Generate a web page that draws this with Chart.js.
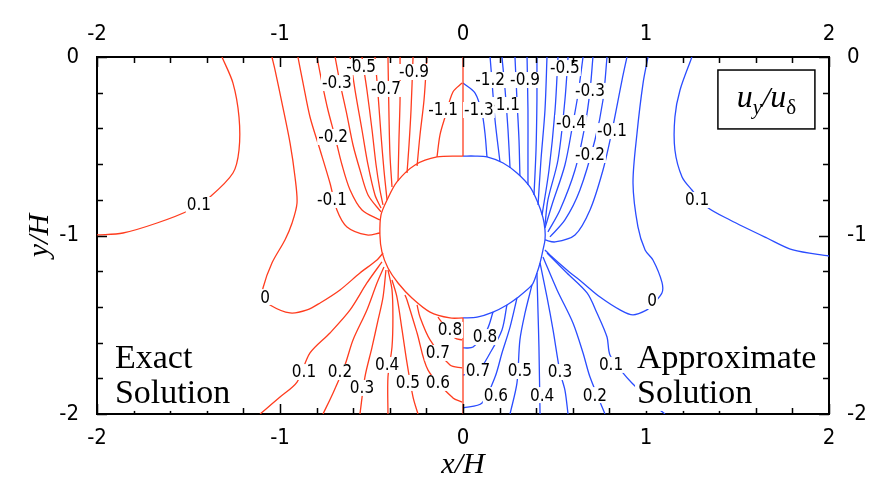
<!DOCTYPE html>
<html>
<head>
<meta charset="utf-8">
<script src="https://cdn.jsdelivr.net/npm/chart.js@4.4.0/dist/chart.umd.min.js"></script>
<style>
  html, body { margin: 0; padding: 0; background: #fff; }
</style>
</head>
<body>
<canvas id="c" width="876" height="487"></canvas>
<script>
// contour lines, [x/H, y/H]
// exact solution (red, left half)
const exactCircle = [[0,-0.555],[-0.142,-0.560],[-0.262,-0.605],[-0.361,-0.700],[-0.415,-0.801],[-0.448,-0.885],[-0.454,-0.997],[-0.443,-1.092],[-0.410,-1.182],[-0.355,-1.266],[-0.279,-1.350],[-0.180,-1.429],[-0.071,-1.462],[0,-1.462]];
const exactAxisTop = [[0,0],[0,-0.555]];
const exactAxisBottom = [[0,-1.462],[0,-2]];
const exactP01Top = [[-1.317,0],[-1.257,-0.146],[-1.224,-0.336],[-1.224,-0.521],[-1.257,-0.650],[-1.383,-0.784],[-1.492,-0.857],[-1.672,-0.930],[-1.858,-0.986],[-2,-0.997]];
const exactZero = [[-1.044,0],[-1.027,-0.073],[-0.989,-0.258],[-0.945,-0.482],[-0.918,-0.672],[-0.907,-0.818],[-0.934,-0.930],[-0.973,-1.025],[-1.044,-1.154],[-1.093,-1.294],[-1.093,-1.345],[-1.055,-1.389],[-0.945,-1.434],[-0.852,-1.417],[-0.781,-1.378],[-0.672,-1.305],[-0.563,-1.210],[-0.470,-1.137],[-0.437,-1.098]];
const exactM01 = [[-0.902,0],[-0.874,-0.146],[-0.836,-0.336],[-0.781,-0.521],[-0.727,-0.706],[-0.689,-0.857],[-0.634,-0.952],[-0.525,-0.997],[-0.454,-0.986]];
const exactM02 = [[-0.798,0],[-0.770,-0.146],[-0.738,-0.297],[-0.699,-0.448],[-0.661,-0.605],[-0.617,-0.745],[-0.552,-0.857],[-0.454,-0.913]];
const exactM03 = [[-0.699,0],[-0.672,-0.146],[-0.634,-0.325],[-0.601,-0.493],[-0.563,-0.633],[-0.519,-0.773],[-0.448,-0.868]];
const exactM04 = [[-0.617,0],[-0.590,-0.185],[-0.552,-0.409],[-0.519,-0.605],[-0.481,-0.773],[-0.448,-0.846]];
const exactM05 = [[-0.552,0],[-0.525,-0.185],[-0.497,-0.409],[-0.475,-0.605],[-0.454,-0.745],[-0.437,-0.829]];
const exactM06 = [[-0.481,0],[-0.464,-0.213],[-0.448,-0.437],[-0.432,-0.633],[-0.415,-0.801]];
const exactM07 = [[-0.410,0],[-0.404,-0.353],[-0.399,-0.549],[-0.388,-0.728]];
const exactM08 = [[-0.344,0],[-0.344,-0.241],[-0.350,-0.465],[-0.355,-0.695]];
const exactM09 = [[-0.273,0],[-0.284,-0.297],[-0.295,-0.493],[-0.306,-0.650]];
const exactM10 = [[-0.197,0],[-0.213,-0.241],[-0.235,-0.437],[-0.251,-0.611]];
const exactM11 = [[-0.005,-0.146],[-0.055,-0.196],[-0.098,-0.336],[-0.126,-0.437],[-0.142,-0.560]];
const exactP01 = [[-1.109,-2],[-1.0,-1.905],[-0.907,-1.821],[-0.836,-1.658],[-0.727,-1.546],[-0.617,-1.417],[-0.525,-1.266],[-0.443,-1.148]];
const exactP02 = [[-0.765,-2],[-0.710,-1.882],[-0.645,-1.725],[-0.601,-1.585],[-0.525,-1.417],[-0.470,-1.266],[-0.432,-1.176]];
const exactP03 = [[-0.563,-2],[-0.536,-1.793],[-0.497,-1.625],[-0.464,-1.473],[-0.437,-1.345],[-0.421,-1.193]];
const exactP04 = [[-0.410,-2],[-0.410,-1.793],[-0.388,-1.625],[-0.383,-1.457],[-0.388,-1.305],[-0.410,-1.193]];
const exactP05 = [[-0.246,-2],[-0.273,-1.905],[-0.306,-1.714],[-0.333,-1.529],[-0.361,-1.345],[-0.388,-1.249]];
const exactP06 = [[-0.005,-1.933],[-0.055,-1.910],[-0.191,-1.754],[-0.251,-1.546],[-0.306,-1.361],[-0.317,-1.333]];
const exactP07 = [[-0.005,-1.742],[-0.071,-1.725],[-0.180,-1.585],[-0.235,-1.457],[-0.251,-1.389]];
const exactP08 = [[-0.005,-1.585],[-0.044,-1.574],[-0.126,-1.473],[-0.137,-1.457]];

// approximate solution (blue, right half)
const approxCircle = [[0,-0.555],[0.066,-0.555],[0.131,-0.560],[0.219,-0.594],[0.295,-0.650],[0.366,-0.728],[0.410,-0.818],[0.437,-0.900],[0.448,-0.969],[0.448,-1.025],[0.437,-1.081],[0.421,-1.154],[0.404,-1.210],[0.377,-1.277],[0.295,-1.350],[0.240,-1.389],[0.164,-1.429],[0.077,-1.457],[0,-1.462]];
const approxP01Top = [[1.251,0],[1.186,-0.185],[1.158,-0.336],[1.158,-0.521],[1.197,-0.672],[1.251,-0.745],[1.333,-0.840],[1.459,-0.913],[1.661,-1.014],[1.803,-1.081],[2,-1.115]];
const approxZero = [[1.011,0],[0.984,-0.146],[0.951,-0.426],[0.929,-0.706],[0.956,-0.952],[0.995,-1.081],[1.038,-1.137],[1.087,-1.261],[1.087,-1.322],[1.033,-1.389],[1.005,-1.417],[0.929,-1.445],[0.858,-1.417],[0.749,-1.345],[0.656,-1.266],[0.568,-1.193],[0.475,-1.109],[0.448,-1.081]];
const approxM01 = [[0.896,0],[0.869,-0.129],[0.814,-0.415],[0.765,-0.633],[0.694,-0.857],[0.612,-0.997],[0.503,-1.036],[0.448,-1.025]];
const approxM02 = [[0.787,0],[0.765,-0.241],[0.721,-0.465],[0.639,-0.745],[0.557,-0.913],[0.475,-1.008]];
const approxM03 = [[0.710,0],[0.694,-0.190],[0.667,-0.381],[0.612,-0.633],[0.530,-0.857],[0.464,-0.980]];
const approxM04 = [[0.656,0],[0.628,-0.213],[0.601,-0.370],[0.557,-0.605],[0.486,-0.829],[0.448,-0.958]];
const approxM05 = [[0.574,0],[0.557,-0.241],[0.519,-0.577],[0.464,-0.801],[0.448,-0.941]];
const approxM06 = [[0.519,0],[0.503,-0.297],[0.470,-0.633],[0.432,-0.885]];
const approxM07 = [[0.459,0],[0.448,-0.297],[0.426,-0.577],[0.410,-0.829]];
const approxM08 = [[0.404,0],[0.404,-0.241],[0.399,-0.521],[0.388,-0.773]];
const approxM09 = [[0.350,0],[0.355,-0.297],[0.355,-0.521],[0.355,-0.717]];
const approxM10 = [[0.284,0],[0.295,-0.241],[0.306,-0.465],[0.311,-0.667]];
const approxM11 = [[0.213,0],[0.230,-0.185],[0.246,-0.409],[0.257,-0.622]];
const approxM12 = [[0.148,0],[0.158,-0.129],[0.175,-0.353],[0.202,-0.588]];
const approxM13 = [[0,-0.146],[0.066,-0.202],[0.104,-0.314],[0.120,-0.426],[0.131,-0.560]];
const approxP01 = [[0.459,-1.098],[0.568,-1.210],[0.678,-1.322],[0.732,-1.434],[0.787,-1.569],[0.803,-1.669],[0.874,-1.770],[0.923,-1.826],[1.077,-1.978],[1.104,-2]];
const approxP02 = [[0.437,-1.120],[0.514,-1.305],[0.601,-1.490],[0.656,-1.658],[0.694,-1.793],[0.776,-2]];
const approxP03 = [[0.421,-1.154],[0.459,-1.345],[0.492,-1.529],[0.530,-1.765],[0.557,-1.866],[0.574,-2]];
const approxP04 = [[0.404,-1.210],[0.410,-1.434],[0.415,-1.625],[0.421,-2]];
const approxP05 = [[0.377,-1.277],[0.339,-1.434],[0.311,-1.585],[0.295,-1.826],[0.257,-2]];
const approxP06 = [[0.295,-1.350],[0.257,-1.513],[0.213,-1.658],[0.175,-1.793],[0.104,-1.938],[0,-1.966]];
const approxP07 = [[0.240,-1.389],[0.213,-1.529],[0.148,-1.658],[0.082,-1.759],[0,-1.782]];
const approxP08 = [[0.164,-1.429],[0.131,-1.529],[0.055,-1.625],[0,-1.630]];

// contour labels: text, x/H, y/H
const exactLabels = [["0.1",-1.443,-0.829],["0",-1.082,-1.345],["-0.1",-0.716,-0.801],["-0.2",-0.710,-0.448],["-0.3",-0.689,-0.146],["-0.5",-0.557,-0.056],["-0.7",-0.421,-0.179],["-0.9",-0.268,-0.084],["-1.1",-0.109,-0.297],["0.1",-0.869,-1.765],["0.2",-0.672,-1.765],["0.3",-0.552,-1.854],["0.4",-0.415,-1.725],["0.5",-0.301,-1.826],["0.6",-0.137,-1.826],["0.7",-0.137,-1.658],["0.8",-0.071,-1.529]];
const approxLabels = [["0.1",1.279,-0.801],["0",1.033,-1.367],["-0.1",0.814,-0.415],["-0.2",0.694,-0.549],["-0.3",0.694,-0.190],["-0.4",0.590,-0.370],["-0.5",0.557,-0.062],["-0.9",0.339,-0.129],["-1.1",0.230,-0.269],["-1.2",0.148,-0.129],["-1.3",0.087,-0.297],["0.1",0.809,-1.725],["0.2",0.721,-1.894],["0.3",0.530,-1.765],["0.4",0.432,-1.894],["0.5",0.311,-1.759],["0.6",0.180,-1.894],["0.7",0.082,-1.759],["0.8",0.120,-1.569]];

const xTickValues = [-2, -1, 0, 1, 2];
const yTickValues = [0, -1, -2];

const RED = "#ff3c1e";
const BLUE = "#2a4cff";
const NARROW = '"Liberation Sans Narrow", "DejaVu Sans Condensed", sans-serif';
const SERIF = '"Liberation Serif", "DejaVu Serif", serif';

const exactLines = [exactCircle, exactAxisTop, exactAxisBottom, exactP01Top, exactZero, exactM01, exactM02, exactM03, exactM04, exactM05, exactM06, exactM07, exactM08, exactM09, exactM10, exactM11, exactP01, exactP02, exactP03, exactP04, exactP05, exactP06, exactP07, exactP08];
const approxLines = [approxCircle, approxP01Top, approxZero, approxM01, approxM02, approxM03, approxM04, approxM05, approxM06, approxM07, approxM08, approxM09, approxM10, approxM11, approxM12, approxM13, approxP01, approxP02, approxP03, approxP04, approxP05, approxP06, approxP07, approxP08];

function lineSet(pts, color) {
  return {
    data: pts.map(p => ({ x: p[0], y: p[1] })),
    showLine: true,
    borderColor: color,
    borderWidth: 1.3,
    pointRadius: 0,
    tension: 0.3,
    fill: false,
  };
}

const datasets = exactLines.map(l => lineSet(l, RED)).concat(approxLines.map(l => lineSet(l, BLUE)));

// inward tick marks, contour labels, texts and legend box
const decorations = {
  id: "decorations",
  afterDatasetsDraw(chart) {
    const ctx = chart.ctx;
    const xs = chart.scales.x, ys = chart.scales.y;
    const a = chart.chartArea;
    ctx.save();

    // contour labels with white background
    ctx.font = "17px " + NARROW;
    ctx.textAlign = "center";
    ctx.textBaseline = "middle";
    exactLabels.concat(approxLabels).forEach(l => {
      const px = xs.getPixelForValue(l[1]), py = ys.getPixelForValue(l[2]);
      const w = ctx.measureText(l[0]).width;
      ctx.fillStyle = "#fff";
      ctx.fillRect(px - w / 2 - 1, py - 8, w + 2, 16);
      ctx.fillStyle = "#000";
      ctx.fillText(l[0], px, py + 1);
    });

    // ticks pointing inwards
    ctx.strokeStyle = "#000";
    ctx.lineWidth = 1.5;
    ctx.beginPath();
    for (let i = 0; i <= 20; i++) {
      const v = -2 + i * 0.2;
      const len = i % 5 === 0 ? 10 : 6;
      const px = Math.round(xs.getPixelForValue(v)) + 0.5;
      ctx.moveTo(px, a.bottom); ctx.lineTo(px, a.bottom - len);
      ctx.moveTo(px, a.top); ctx.lineTo(px, a.top + len);
    }
    for (let i = 0; i <= 10; i++) {
      const v = -2 + i * 0.2;
      const len = i % 5 === 0 ? 10 : 6;
      const py = Math.round(ys.getPixelForValue(v)) + 0.5;
      ctx.moveTo(a.left, py); ctx.lineTo(a.left + len, py);
      ctx.moveTo(a.right, py); ctx.lineTo(a.right - len, py);
    }
    ctx.stroke();

    // solution captions
    ctx.font = "34px " + SERIF;
    ctx.textAlign = "left";
    ctx.textBaseline = "alphabetic";
    const captions = [["Exact", -1.902, -1.742], ["Solution", -1.902, -1.938], ["Approximate", 0.951, -1.742], ["Solution", 0.951, -1.938]];
    captions.forEach(c => {
      const px = xs.getPixelForValue(c[1]), py = ys.getPixelForValue(c[2]);
      const w = ctx.measureText(c[0]).width;
      ctx.fillStyle = "#fff";
      ctx.fillRect(px - 2, py - 25, w + 4, 33);
      ctx.fillStyle = "#000";
      ctx.fillText(c[0], px, py);
    });

    // quantity box u_y/u_delta
    const bx0 = xs.getPixelForValue(1.393), bx1 = xs.getPixelForValue(1.923);
    const by0 = ys.getPixelForValue(-0.073), by1 = ys.getPixelForValue(-0.403);
    ctx.fillStyle = "#fff";
    ctx.fillRect(bx0, by0, bx1 - bx0, by1 - by0);
    ctx.lineWidth = 1.5;
    ctx.strokeRect(bx0, by0, bx1 - bx0, by1 - by0);
    const parts = [["u", "italic 32px " + SERIF, 0], ["y", "italic 21px " + SERIF, 7], ["/", "italic 30px " + SERIF, 0], ["u", "italic 32px " + SERIF, 0], ["\u03b4", "21px " + SERIF, 7]];
    let total = 0;
    parts.forEach(p => { ctx.font = p[1]; total += ctx.measureText(p[0]).width; });
    let cx = (bx0 + bx1) / 2 - total / 2;
    const base = (by0 + by1) / 2 + 8;
    ctx.fillStyle = "#000";
    parts.forEach(p => {
      ctx.font = p[1];
      ctx.fillText(p[0], cx, base + p[2]);
      cx += ctx.measureText(p[0]).width;
    });

    ctx.restore();
  },
};

const tickFont = { family: NARROW, size: 22 };
const titleFont = { family: SERIF, size: 30, style: "italic" };
const border = { display: true, color: "#000", width: 2 };

new Chart(document.getElementById("c"), {
  type: "scatter",
  data: { datasets: datasets },
  options: {
    responsive: false,
    animation: false,
    devicePixelRatio: 1,
    layout: { padding: 0 },
    plugins: { legend: { display: false }, tooltip: { enabled: false } },
    scales: {
      x: {
        type: "linear", position: "bottom", min: -2, max: 2,
        afterBuildTicks: s => { s.ticks = xTickValues.map(v => ({ value: v })); },
        afterFit: s => { s.height = 73; },
        ticks: { color: "#000", font: tickFont, padding: 11, maxRotation: 0 },
        grid: { display: false, drawTicks: false },
        border: border,
        title: { display: true, text: "x/H", color: "#000", font: titleFont, padding: { top: 0, bottom: 4 } },
      },
      x2: {
        type: "linear", position: "top", min: -2, max: 2,
        afterBuildTicks: s => { s.ticks = xTickValues.map(v => ({ value: v })); },
        afterFit: s => { s.height = 57; },
        ticks: { color: "#000", font: tickFont, padding: 10, maxRotation: 0 },
        grid: { display: false, drawTicks: false },
        border: border,
      },
      y: {
        type: "linear", position: "left", min: -2, max: 0,
        afterBuildTicks: s => { s.ticks = yTickValues.map(v => ({ value: v })); },
        afterFit: s => { s.width = 97; },
        ticks: { color: "#000", font: tickFont, padding: 18 },
        grid: { display: false, drawTicks: false },
        border: border,
        title: { display: true, text: "y/H", color: "#000", font: titleFont, padding: { top: 22, bottom: 0 } },
      },
      y2: {
        type: "linear", position: "right", min: -2, max: 0,
        afterBuildTicks: s => { s.ticks = yTickValues.map(v => ({ value: v })); },
        afterFit: s => { s.width = 47; },
        ticks: { color: "#000", font: tickFont, padding: 18 },
        grid: { display: false, drawTicks: false },
        border: border,
      },
    },
  },
  plugins: [decorations],
});
</script>
</body>
</html>
